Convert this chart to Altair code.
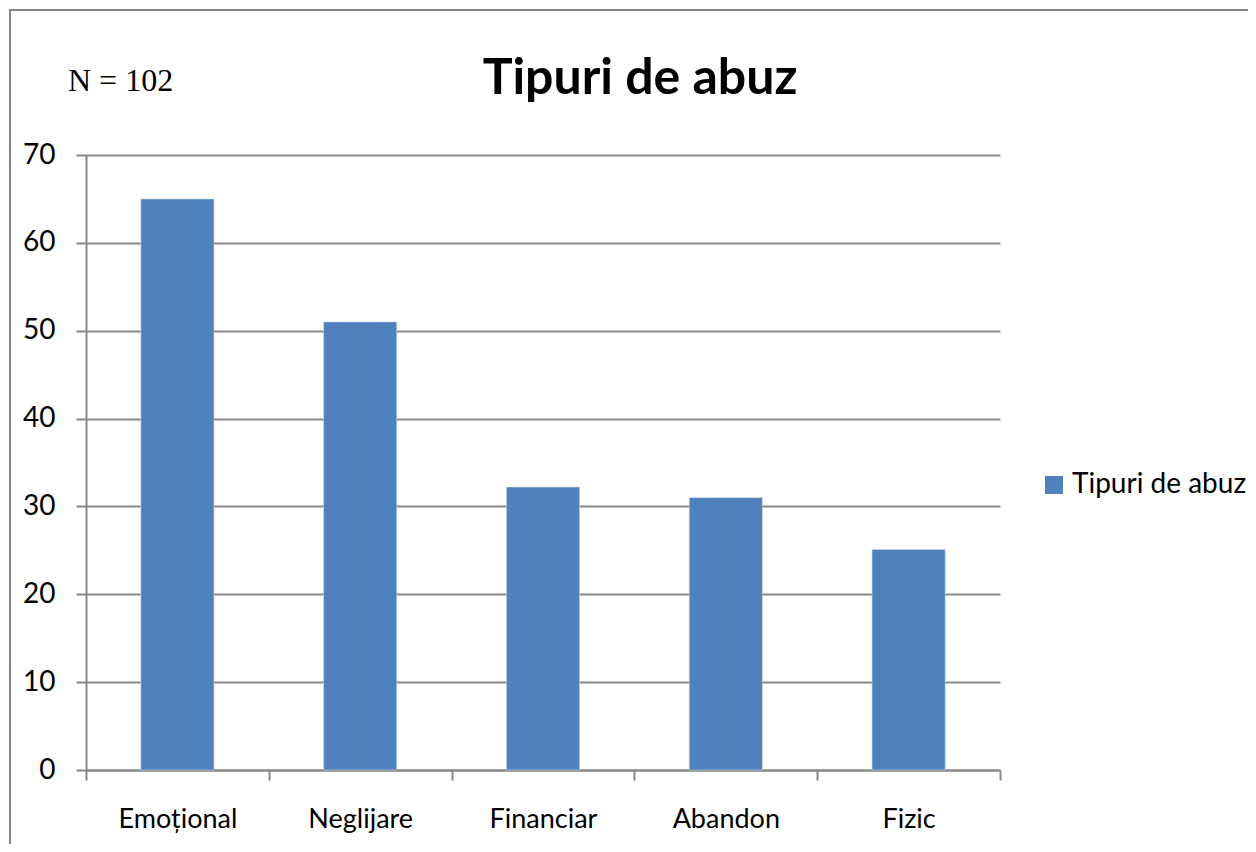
import altair as alt
import pandas as pd

categories = ["Emoțional", "Neglijare", "Financiar", "Abandon", "Fizic"]
values = [65, 51, 32.2, 31, 25.1]
series_name = "Tipuri de abuz"
chart_title = "Tipuri de abuz"
note = "N = 102"
y_ticks = [0, 10, 20, 30, 40, 50, 60, 70]

bars_df = pd.DataFrame({"cat": categories, "val": values, "series": [series_name] * len(categories)})

GRID = "#888888"

bars = alt.Chart(bars_df).mark_bar(
    color="#4F81BD", stroke="#c9d6ea", strokeWidth=0.6, width=alt.RelativeBandSize(0.4)
).encode(
    x=alt.X("cat:N", sort=categories, title=None,
            scale=alt.Scale(paddingInner=0, paddingOuter=0),
            axis=alt.Axis(labelAngle=0, labelFontSize=27, labelColor="#000000",
                          labelFont="Lato", labelPadding=26, labelBaseline="top",
                          tickSize=10, tickColor=GRID, tickWidth=2, tickBand="extent",
                          domainColor=GRID, domainWidth=2, grid=False)),
    y=alt.Y("val:Q", title=None,
            scale=alt.Scale(domain=[0, 70], nice=False),
            axis=alt.Axis(values=y_ticks, labelFontSize=28, labelColor="#000000",
                          labelFont="Lato", labelPadding=21, tickSize=10,
                          tickColor=GRID, tickWidth=2, domainColor=GRID, domainWidth=2,
                          grid=True, gridColor=GRID, gridWidth=2)),
    color=alt.Color("series:N", scale=alt.Scale(range=["#4F81BD"]),
                    legend=alt.Legend(title=None, orient="none", legendX=954, legendY=316,
                                      symbolType="square", symbolSize=324,
                                      symbolStrokeWidth=0, labelFontSize=28,
                                      labelFont="Lato", labelColor="#000000",
                                      labelOffset=4, labelLimit=400, padding=0)),
)

title_df = pd.DataFrame({"t": [chart_title]})
title_mark = alt.Chart(title_df).mark_text(
    font="Lato", fontWeight="bold", fontSize=50, align="center", baseline="alphabetic", color="#000000"
).encode(text="t:N", x=alt.value(554), y=alt.value(-61))

note_df = pd.DataFrame({"t": [note]})
note_mark = alt.Chart(note_df).mark_text(
    font="Liberation Serif", fontSize=32, align="left", baseline="alphabetic", color="#000000"
).encode(text="t:N", x=alt.value(-18), y=alt.value(-64))

border_df = pd.DataFrame({"k": [1]})
border = alt.Chart(border_df).mark_rect(fillOpacity=0, stroke="#868686", strokeWidth=2).encode(
    x=alt.value(-76), x2=alt.value(1300), y=alt.value(-145), y2=alt.value(800)
)

chart = alt.layer(border, bars, title_mark, note_mark).properties(
    width=914, height=615, autosize="none",
    padding={"left": 78, "top": 147, "right": 248, "bottom": 74},
).configure_view(stroke=None)

chart.save("out.html", embed_options={"renderer": "svg", "actions": False})
